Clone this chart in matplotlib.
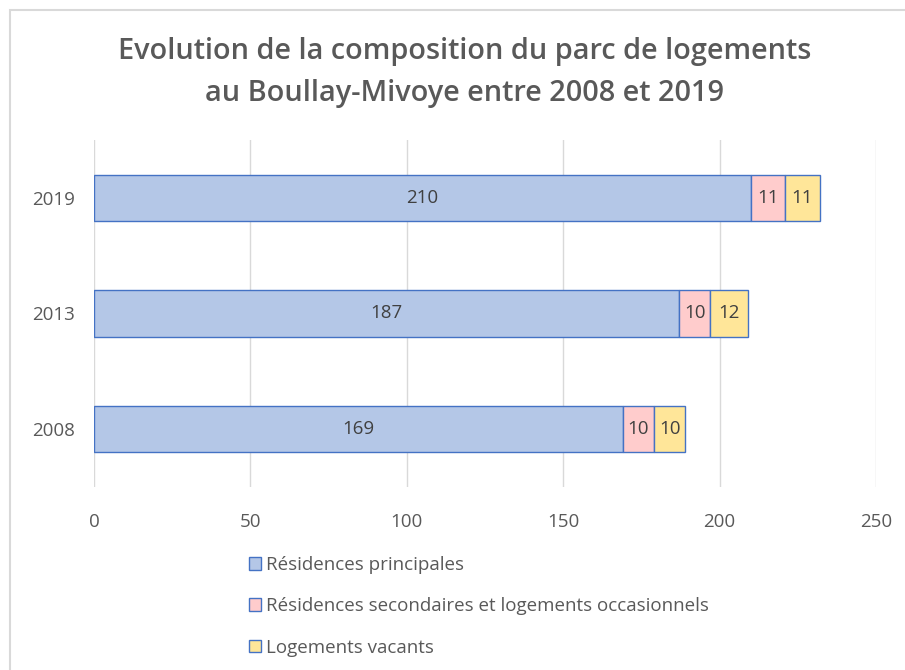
import matplotlib.pyplot as plt
import matplotlib.patches as mpatches
import numpy as np

plt.rcParams['font.family'] = ['Open Sans', 'DejaVu Sans']

years = ['2008', '2013', '2019']
principales = [169, 187, 210]
secondaires = [10, 10, 11]
vacants = [10, 12, 11]

series = [
	("Résidences principales", principales, '#B4C7E7'),
	("Résidences secondaires et logements occasionnels", secondaires, '#FFCCCC'),
	("Logements vacants", vacants, '#FFE699'),
]
edge = '#4472C4'
textcol = '#595959'

fig = plt.figure(figsize=(9.05, 6.70), dpi=100)
ax = fig.add_axes([94/905, 1 - 487/670, (876 - 94)/905, (487 - 140)/670])

# light frame around the chart
fig.patches.append(mpatches.Rectangle((10/905, -0.01), 1.0, (660/670) + 0.01, transform=fig.transFigure,
	fill=False, edgecolor='#D9D9D9', linewidth=1.5))

y = np.arange(len(years))
left = np.zeros(len(years))
handles = []
for name, vals, color in series:
	vals = np.array(vals)
	bars = ax.barh(y, vals, left=left, height=0.4, color=color, edgecolor=edge, linewidth=1.0)
	handles.append(bars)
	for yi, l, v in zip(y, left, vals):
		ax.text(l + v / 2, yi, str(v), ha='center', va='center', fontsize=13.5, color='#404040')
	left = left + vals

ax.set_xlim(0, 250)
ax.set_ylim(-0.5, 2.5)
ax.set_xticks(range(0, 251, 50))
ax.set_yticks(y)
ax.set_yticklabels(years)
ax.tick_params(axis='both', length=0, labelsize=13.5, labelcolor=textcol)
ax.tick_params(axis='x', pad=19)
ax.tick_params(axis='y', pad=14)
ax.grid(axis='x', color='#D9D9D9', linewidth=1)
ax.set_axisbelow(True)
for s in ax.spines.values():
	s.set_visible(False)

fig.text(0.513, 1 - 52/670, "Evolution de la composition du parc de logements", ha='center', va='center',
	fontsize=20.8, fontweight='semibold', color=textcol)
fig.text(0.513, 1 - 94/670, "au Boullay-Mivoye entre 2008 et 2019", ha='center', va='center',
	fontsize=20.8, fontweight='semibold', color=textcol)

leg = fig.legend(handles, [s[0] for s in series], loc='upper left', bbox_to_anchor=(232/905, 1 - 539/670),
	frameon=False, fontsize=13.5, labelcolor=textcol, handlelength=0.65, handleheight=0.65,
	handletextpad=0.25, labelspacing=1.25)

plt.savefig('out.png', dpi=100)
